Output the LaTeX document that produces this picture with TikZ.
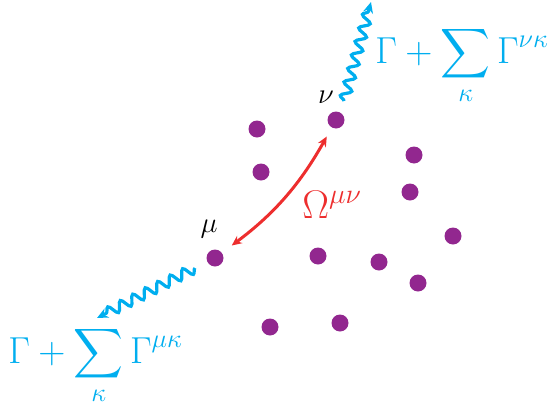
\RequirePackage{fix-cm}
\documentclass[tikz,border=0pt]{standalone}
\usepackage{tikz}
\usetikzlibrary{positioning, arrows.meta, decorations.pathmorphing}
\usepackage{amsmath}
\usepackage{xcolor}
\definecolor{atompurple}{HTML}{92278F}
\definecolor{photonblue}{HTML}{00AEEF}
\definecolor{couplingred}{HTML}{ED2E2E}

\begin{document}
\begin{tikzpicture}[x=0.5pt, y=-0.5pt,
    a/.style={circle, fill=atompurple, minimum size=8.5pt, inner sep=0pt},
    photon/.style={photonblue, line width=1.6pt, decorate,
      decoration={snake, amplitude=2.5pt, segment length=7pt, post length=4pt},
      -{Stealth[length=5.5pt, width=5pt]}},
    coupling/.style={couplingred, line width=1.5pt,
      {Stealth[length=5pt, width=4.5pt]}-{Stealth[length=5pt, width=4.5pt]}},
    rate/.style={photonblue, font=\fontsize{18.8}{22}\selectfont, inner sep=0pt, anchor=base west}]
  \useasboundingbox (0,0) rectangle (558,418);
  % the two sites and the rest of the ensemble
  \node[a] (nu) at (336,120) {};
  \node[a] (mu) at (215,258) {};
  \foreach \x/\y [count=\i] in {257/129, 261/172, 414/155, 410/192, 318/256,
      379/262, 453/236, 418/283, 270/327, 340/323}
    \node[a] (s\i) at (\x,\y) {};
  \node[font=\Large] (nulbl) at (326,97) {$\nu$};
  \node[font=\Large] (mulbl) at (209,229) {$\mu$};
  % emission
  \coordinate (nuemit) at (344,101);
  \coordinate (nuout) at (371,2);
  \coordinate (muemit) at (195,268);
  \coordinate (muout) at (97,318);
  \draw[photon] (nuemit) -- (nuout);
  \draw[photon] (muemit) -- (muout);
  \node[rate] (gnu) at (375,63) {$\displaystyle\Gamma+\sum_{\kappa}\Gamma^{\nu\kappa}$};
  \node[rate] (gmu) at (8,363) {$\displaystyle\Gamma+\sum_{\kappa}\Gamma^{\mu\kappa}$};
  % coherent coupling
  \draw[coupling, shorten <=5pt, shorten >=6pt] (nu) to[bend left=12] (mu);
  \node[couplingred, font=\fontsize{20}{24}\selectfont, inner sep=0pt, anchor=base west] (omega) at (302,218) {$\Omega^{\mu\nu}$};
\end{tikzpicture}
\end{document}
